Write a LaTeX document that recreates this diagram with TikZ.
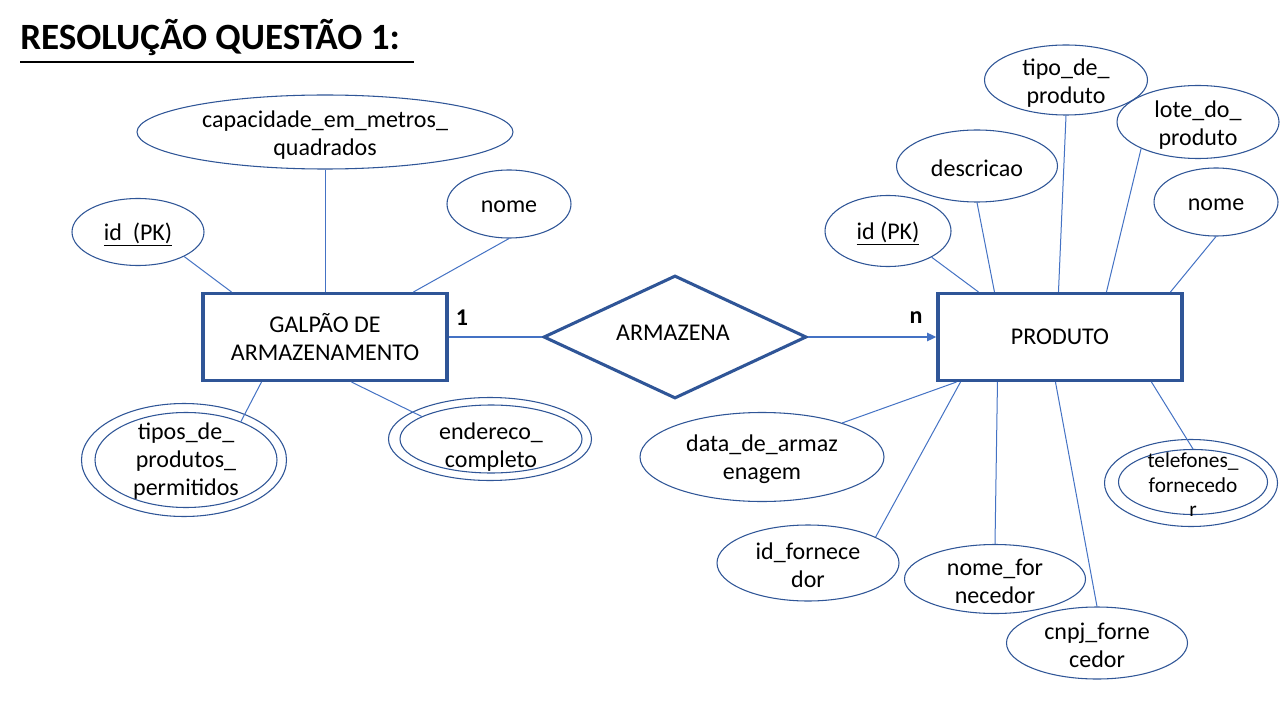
\documentclass[tikz,border=0pt]{standalone}
\usepackage{fontspec}
\setmainfont{Carlito}
\usetikzlibrary{shapes.geometric,arrows.meta,calc}
\definecolor{dkb}{HTML}{2F5597}
\definecolor{lnb}{HTML}{4472C4}
\begin{document}
\begin{tikzpicture}[x=0.75pt,y=-0.75pt,
  every node/.style={font=\fontsize{18}{21}\selectfont, text=black},
  every label/.style={font=\fontsize{18}{21}\selectfont, align=center, inner sep=0pt, yshift=-2pt},
  attr/.style={ellipse, draw=dkb, line width=0.8pt, inner sep=0pt},
  ent/.style={rectangle, draw=dkb, line width=2.3pt, inner sep=0pt, minimum width=183pt, minimum height=65.25pt, align=center},
  relshape/.style={diamond, draw=dkb, line width=2.3pt, inner sep=0pt, aspect=2.14, minimum width=197.25pt, minimum height=92.25pt},
  conn/.style={draw=lnb, line width=0.75pt},
  rel/.style={draw=lnb, line width=2pt},
  card/.style={font=\bfseries\fontsize{18}{21}\selectfont}]
\useasboundingbox (0,0) rectangle (1280,720);
\fill[white] (0,0) rectangle (1280,720);

% title
\node[anchor=base west, inner sep=0pt, font=\bfseries\fontsize{27.8}{32}\selectfont] (title) at (20,50) {RESOLUÇÃO QUESTÃO 1:};
\draw[line width=1.5pt] ($(title.base west)+(0,12)$) -- ($(title.base east)+(14,12)$);

% entities and relationship
\node[ent] (galpao) at (325,337) {GALPÃO DE\\ARMAZENAMENTO};
\node[ent] (prod) at (1060,337) {PRODUTO};
\node[relshape] (armz) at (675,337) {};
\node at (673,333) (armztxt) {ARMAZENA};
\node[card] (c1) at (462,318) {1};
\node[card] (cn) at (916,318) {n};

\draw[rel] (galpao.east) -- (armz.west);
\draw[rel,-{Triangle[length=7pt,width=6pt]}] (armz.east) -- (prod.west);

% attributes of GALPAO
\node[attr, minimum width=282pt, minimum height=55.5pt, label=center:{capacidade\_em\_metros\_\\quadrados}] (capac) at (325,132) {};
\node[attr, minimum width=93pt, minimum height=51pt, label=center:{nome}] (nomel) at (509,204) {};
\node[attr, minimum width=99pt, minimum height=50.25pt, label=center:{\underline{id\ \ (PK)}}] (idl) at (138,232) {};
\node[attr, minimum width=153.75pt, minimum height=84.75pt] (tiposo) at (184,460) {};
\node[attr, minimum width=136.5pt, minimum height=71.25pt, label={[yshift=1pt]center:{tipos\_de\_\\produtos\_\\permitidos}}] (tipos) at (186,460) {};
\node[attr, minimum width=152.25pt, minimum height=62.25pt] (endo) at (490,439) {};
\node[attr, minimum width=136.5pt, minimum height=51pt, label={[yshift=-4pt]center:{endereco\_\\completo}}] (endi) at (491,439) {};

\draw[conn] (idl.-28) -- ($(galpao.north west)+(30,0)$);
\draw[conn] (capac.south) -- (galpao.north);
\draw[conn] (nomel.south) -- ($(galpao.north west)+(212,0)$);
\draw[conn] ($(galpao.south west)+(60,0)$) -- (tipos.35);
\draw[conn] ($(galpao.south west)+(150,0)$) -- (endi.162);

% attributes of PRODUTO
\node[attr, minimum width=94.5pt, minimum height=53.25pt, label=center:{\underline{id (PK)}}] (idr) at (888,231) {};
\node[attr, minimum width=120.75pt, minimum height=54pt, label=center:{descricao}] (descr) at (977,166) {};
\node[attr, minimum width=122.25pt, minimum height=52.5pt, label=center:{tipo\_de\_\\produto}] (tipo) at (1066,80) {};
\node[attr, minimum width=121.5pt, minimum height=54.75pt, label=center:{lote\_do\_\\produto}] (lote) at (1198,122) {};
\node[attr, minimum width=93pt, minimum height=51pt, label=center:{nome}] (nomer) at (1216,202) {};
\node[attr, minimum width=183pt, minimum height=66.75pt, label=center:{data\_de\_armaz\\enagem}] (data) at (762,457) {};
\node[attr, minimum width=136.5pt, minimum height=57pt, label=center:{id\_fornece\\dor}] (idf) at (808,563) {};
\node[attr, minimum width=135.75pt, minimum height=51.75pt, label=center:{nome\_for\\necedor}] (nomef) at (995,579) {};
\node[attr, minimum width=135.75pt, minimum height=54pt, label=center:{cnpj\_forne\\cedor}] (cnpj) at (1097,643) {};
\node[attr, minimum width=129.75pt, minimum height=65.25pt] (telo) at (1191,483) {};
\node[attr, minimum width=111.75pt, minimum height=48.75pt, label={[font=\fontsize{16}{18.5}\selectfont]center:{telefones\_\\fornecedo\\r}}] (teli) at (1193,482) {};

\draw[conn] (idr.-31) -- ($(prod.north west)+(42,0)$);
\draw[conn] (descr.south) -- ($(prod.north west)+(58,0)$);
\draw[conn] (tipo.south) -- ($(prod.north west)+(122,0)$);
\draw[conn] (lote.-155) -- ($(prod.north west)+(170,0)$);
\draw[conn] (nomer.south) -- ($(prod.north west)+(234,0)$);
\draw[conn] ($(prod.south west)+(20,0)$) -- (data.23);
\draw[conn] ($(prod.south west)+(24,0)$) -- (idf.21);
\draw[conn] ($(prod.south west)+(61,0)$) -- (nomef.north);
\draw[conn] ($(prod.south west)+(119,0)$) -- (cnpj.north);
\draw[conn] ($(prod.south west)+(215,0)$) -- (teli.north);
\end{tikzpicture}
\end{document}
